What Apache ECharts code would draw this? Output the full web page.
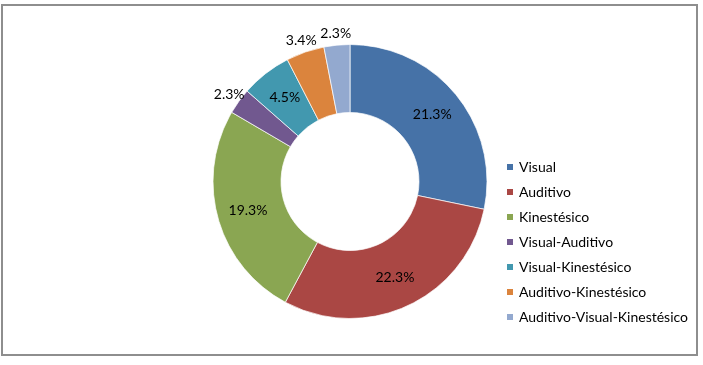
<!DOCTYPE html>
<html><head><meta charset="utf-8">
<style>html,body{margin:0;padding:0;background:#fff}#c{width:703px;height:365px}</style>
<script src="https://cdn.jsdelivr.net/npm/echarts@6/dist/echarts.min.js"></script>
</head><body><div id="c"></div>
<script>
const categories = ['Visual','Auditivo','Kinestésico','Visual-Auditivo','Visual-Kinestésico','Auditivo-Kinestésico','Auditivo-Visual-Kinestésico'];
const values = [21.3, 22.3, 19.3, 2.3, 4.5, 3.4, 2.3];
const colors = ['#4672A7','#AA4744','#8AA652','#71588F','#4298AF','#DB843D','#93A9CF'];
const outsideLabels = [false, false, false, true, false, true, true];

const FONT = 'Lato';
const chart = echarts.init(document.getElementById('c'));
chart.setOption({
  animation: false,
  color: colors,
  graphic: [{type:'rect', shape:{x:2, y:5, width:695, height:350}, style:{fill:'none', stroke:'#8e8e8e', lineWidth:2}}],
  legend: {
    orient: 'vertical', left: 505, top: 160, padding: 0,
    itemWidth: 8, itemHeight: 8, itemGap: 11, icon: 'rect',
    textStyle: {fontFamily: FONT, fontSize: 14, color: '#000', lineHeight: 14},
    data: categories
  },
  series: [{
    type: 'pie', center: [350, 181.5], radius: [69, 137], startAngle: 90, clockwise: true,
    avoidLabelOverlap: false,
    itemStyle: {borderColor: '#fff', borderWidth: 0.7},
    label: {show: true, position: 'inside', fontFamily: FONT, fontSize: 14, color: '#000',
            formatter: p => p.value.toFixed(1) + '%'},
    labelLine: {show: false},
    labelLayout: {align: 'center'},
    data: categories.map((n, i) => ({
      name: n, value: values[i],
      label: outsideLabels[i] ? {position: 'outside', distanceToLabelLine: 0} : {},
      labelLine: outsideLabels[i] ? {show: false, length: 12, length2: 0} : {}
    }))
  }]
});
</script></body></html>
